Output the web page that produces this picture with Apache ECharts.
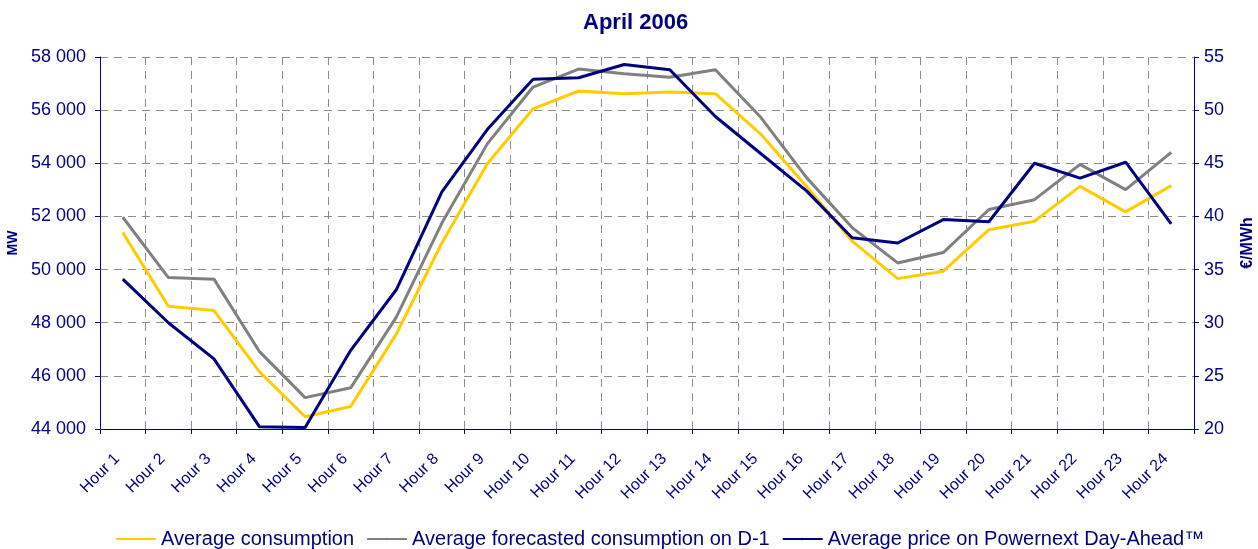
<!DOCTYPE html>
<html>
<head>
<meta charset="utf-8">
<script src="https://cdn.jsdelivr.net/npm/echarts@6/dist/echarts.min.js"></script>
<style>
  html, body { margin: 0; padding: 0; background: #fff; }
  #chart { width: 1258px; height: 549px; }
</style>
</head>
<body>
<div id="chart"></div>
<script>
// data
const hours = ['Hour 1','Hour 2','Hour 3','Hour 4','Hour 5','Hour 6','Hour 7','Hour 8',
  'Hour 9','Hour 10','Hour 11','Hour 12','Hour 13','Hour 14','Hour 15','Hour 16',
  'Hour 17','Hour 18','Hour 19','Hour 20','Hour 21','Hour 22','Hour 23','Hour 24']
const consumption = [51390, 48620, 48460, 46150, 44460, 44850, 47570, 51000,
  53990, 56050, 56720, 56620, 56680, 56620, 55090, 53130,
  51070, 49660, 49940, 51500, 51820, 53130, 52170, 53160]
const forecast = [51970, 49700, 49640, 46910, 45180, 45550, 48210, 51750,
  54740, 56870, 57545, 57370, 57240, 57520, 55720, 53460,
  51580, 50250, 50640, 52260, 52630, 53960, 53010, 54410]
const price = [34.1, 30.0, 26.6, 20.2, 20.15, 27.4, 33.1, 42.3,
  48.2, 52.9, 53.05, 54.3, 53.8, 49.4, 45.9, 42.4,
  38.0, 37.5, 39.7, 39.5, 45.0, 43.6, 45.1, 39.3]

const navy = '#000080'
const font = 'Liberation Sans, Arial, sans-serif'
const gridLine = { show: true, lineStyle: { color: '#8c8c8c', type: [8, 6], width: 1 } }

const Chart = echarts.init(document.getElementById('chart'))
Chart.setOption({
  animation: false,
  textStyle: { fontFamily: font },
  title: {
    text: 'April 2006',
    left: 578,
    top: 7,
    textStyle: { color: navy, fontSize: 22, fontWeight: 'bold', fontFamily: font }
  },
  grid: { left: 100, right: 64, top: 57, bottom: 120, containLabel: false, outerBoundsMode: 'none' },
  legend: {
    left: 110,
    top: 524,
    itemWidth: 40,
    itemHeight: 3,
    itemGap: 12,
    textStyle: { color: navy, fontSize: 20, fontFamily: font },
    data: ['Average consumption', 'Average forecasted consumption on D-1', 'Average price on Powernext Day-Ahead™']
  },
  xAxis: {
    type: 'category',
    data: hours,
    boundaryGap: true,
    axisLine: { lineStyle: { color: navy, width: 1 } },
    axisTick: { show: true, length: 5, lineStyle: { color: navy } },
    axisLabel: { color: navy, fontSize: 16, rotate: 45, margin: 33, interval: 0,
      align: 'right', verticalAlign: 'bottom' },
    splitLine: gridLine
  },
  yAxis: [{
    type: 'value',
    min: 44000, max: 58000, interval: 2000,
    name: 'MW',
    nameLocation: 'middle',
    nameRotate: 90,
    nameGap: 75,
    nameTextStyle: { color: navy, fontSize: 14, fontWeight: 'bold' },
    axisLine: { show: true, lineStyle: { color: navy, width: 1 } },
    axisTick: { show: true, length: 5, lineStyle: { color: navy } },
    axisLabel: {
      color: navy, fontSize: 18, margin: 14,
      formatter: v => String(v).replace(/\B(?=(\d{3})+(?!\d))/g, ' ')
    },
    splitLine: gridLine
  }, {
    type: 'value',
    min: 20, max: 55, interval: 5,
    position: 'right',
    name: '€/MWh',
    nameLocation: 'middle',
    nameRotate: 90,
    nameGap: 46,
    nameTextStyle: { color: navy, fontSize: 16, fontWeight: 'bold' },
    axisLine: { show: true, lineStyle: { color: navy, width: 1 } },
    axisTick: { show: true, length: 5, lineStyle: { color: navy } },
    axisLabel: { color: navy, fontSize: 18, margin: 10 },
    splitLine: { show: false }
  }],
  series: [{
    name: 'Average consumption',
    type: 'line',
    data: consumption,
    symbol: 'none',
    itemStyle: { color: '#ffcc00' },
    lineStyle: { color: '#ffcc00', width: 3 }
  }, {
    name: 'Average forecasted consumption on D-1',
    type: 'line',
    data: forecast,
    symbol: 'none',
    itemStyle: { color: '#808080' },
    lineStyle: { color: '#808080', width: 3 }
  }, {
    name: 'Average price on Powernext Day-Ahead™',
    type: 'line',
    yAxisIndex: 1,
    data: price,
    symbol: 'none',
    itemStyle: { color: navy },
    lineStyle: { color: navy, width: 3 }
  }]
})
</script>
</body>
</html>
